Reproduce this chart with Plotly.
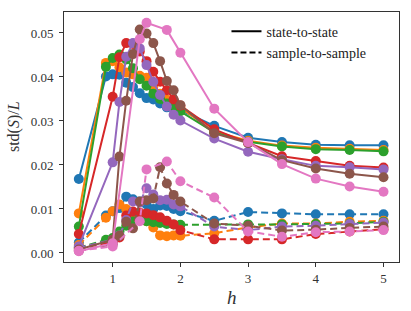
import plotly.graph_objects as go

h_std = [0.5, 0.9, 1.0, 1.1, 1.2, 1.3, 1.4, 1.5, 1.6, 1.7, 1.8, 1.9, 2.0, 2.5, 3.0, 3.5, 4.0, 4.5, 5.0]
h_late = [0.5, 1.0, 1.1, 1.2, 1.3, 1.4, 1.5, 1.6, 1.7, 1.8, 1.9, 2.0, 2.5, 3.0, 3.5, 4.0, 4.5, 5.0]
h_pink = [0.5, 1.0, 1.4, 1.5, 1.8, 2.0, 2.5, 3.0, 3.5, 4.0, 4.5, 5.0]

colors = ["#1f77b4", "#ff7f0e", "#2ca02c", "#d62728", "#9467bd", "#8c564b", "#e377c2"]

h_values = [h_std, h_std, h_std, h_late, h_late, h_late, h_pink]

state_to_state = [
    [0.0168, 0.0401, 0.0406, 0.0405, 0.0387, 0.0377, 0.0363, 0.0352, 0.0349, 0.0340, 0.0331, 0.0328, 0.0325, 0.0289, 0.0262, 0.0252, 0.0246, 0.0245, 0.0245],
    [0.0090, 0.0432, 0.0436, 0.0422, 0.0410, 0.0406, 0.0403, 0.0398, 0.0378, 0.0362, 0.0348, 0.0336, 0.0330, 0.0276, 0.0255, 0.0244, 0.0239, 0.0237, 0.0234],
    [0.0060, 0.0423, 0.0443, 0.0451, 0.0440, 0.0420, 0.0395, 0.0380, 0.0362, 0.0350, 0.0340, 0.0330, 0.0322, 0.0274, 0.0253, 0.0242, 0.0236, 0.0234, 0.0231],
    [0.0043, 0.0355, 0.0445, 0.0477, 0.0475, 0.0458, 0.0436, 0.0412, 0.0389, 0.0370, 0.0349, 0.0335, 0.0281, 0.0250, 0.0220, 0.0209, 0.0198, 0.0194],
    [0.0015, 0.0206, 0.0343, 0.0446, 0.0477, 0.0465, 0.0427, 0.0389, 0.0359, 0.0333, 0.0314, 0.0301, 0.0260, 0.0230, 0.0213, 0.0198, 0.0195, 0.0190],
    [0.0008, 0.0030, 0.0219, 0.0346, 0.0452, 0.0508, 0.0499, 0.0477, 0.0436, 0.0391, 0.0370, 0.0336, 0.0272, 0.0250, 0.0211, 0.0192, 0.0180, 0.0172],
    [0.0004, 0.0022, 0.0486, 0.0523, 0.0507, 0.0455, 0.0328, 0.0252, 0.0202, 0.0169, 0.0151, 0.0139],
]

sample_to_sample = [
    [0.0024, 0.0085, 0.0095, 0.0102, 0.0128, 0.0122, 0.0117, 0.0110, 0.0100, 0.0108, 0.0107, 0.0100, 0.0095, 0.0073, 0.0093, 0.0090, 0.0088, 0.0088, 0.0088],
    [0.0018, 0.0080, 0.0095, 0.0110, 0.0100, 0.0085, 0.0079, 0.0072, 0.0058, 0.0040, 0.0038, 0.0040, 0.0039, 0.0045, 0.0058, 0.0067, 0.0067, 0.0071, 0.0073],
    [0.0012, 0.0030, 0.0034, 0.0049, 0.0062, 0.0072, 0.0075, 0.0072, 0.0070, 0.0068, 0.0066, 0.0065, 0.0064, 0.0065, 0.0065, 0.0065, 0.0066, 0.0067, 0.0071],
    [0.0010, 0.0025, 0.0035, 0.0085, 0.0094, 0.0092, 0.0090, 0.0086, 0.0081, 0.0073, 0.0065, 0.0052, 0.0031, 0.0031, 0.0031, 0.0043, 0.0049, 0.0054],
    [0.0012, 0.0030, 0.0040, 0.0075, 0.0117, 0.0115, 0.0147, 0.0133, 0.0120, 0.0121, 0.0110, 0.0106, 0.0060, 0.0052, 0.0060, 0.0062, 0.0066, 0.0069],
    [0.0005, 0.0020, 0.0039, 0.0071, 0.0056, 0.0117, 0.0120, 0.0124, 0.0195, 0.0158, 0.0132, 0.0117, 0.0067, 0.0062, 0.0051, 0.0053, 0.0057, 0.0060],
    [0.0005, 0.0015, 0.0072, 0.0190, 0.0208, 0.0163, 0.0126, 0.0049, 0.0037, 0.0047, 0.0049, 0.0052],
]

legend_labels = ["state-to-state", "sample-to-sample"]
x_ticks = [1, 2, 3, 4, 5]
y_ticks = [0.00, 0.01, 0.02, 0.03, 0.04, 0.05]
x_title = "<i>h</i>"
y_title = "std(<i>S</i>)/<i>L</i>"

FONT = "'Liberation Serif', 'Times New Roman', serif"
DASH = "7px,4px"

fig = go.Figure()
for c, hx, ys, yd in zip(colors, h_values, state_to_state, sample_to_sample):
    fig.add_trace(go.Scatter(x=hx, y=ys, mode="lines+markers", showlegend=False,
                             line=dict(color=c, width=2),
                             marker=dict(color=c, size=10)))
    fig.add_trace(go.Scatter(x=hx, y=yd, mode="lines+markers", showlegend=False,
                             line=dict(color=c, width=2, dash=DASH),
                             marker=dict(color=c, size=10)))

fig.add_trace(go.Scatter(x=[None], y=[None], mode="lines", name=legend_labels[0],
                         line=dict(color="black", width=2)))
fig.add_trace(go.Scatter(x=[None], y=[None], mode="lines", name=legend_labels[1],
                         line=dict(color="black", width=2, dash="6px,3px")))

axis_common = dict(showline=True, linecolor="#333333", linewidth=1, mirror=True,
                   ticks="outside", ticklen=4, tickcolor="#333333", tickwidth=1,
                   showgrid=False, zeroline=False, automargin=False,
                   tickfont=dict(family=FONT, size=13, color="#333333"))

fig.update_layout(
    width=411, height=311,
    margin=dict(l=64, r=12, t=12, b=49),
    paper_bgcolor="white", plot_bgcolor="white",
    font=dict(family=FONT, color="#333333"),
    legend=dict(x=0.485, y=0.985, xanchor="left", yanchor="top",
                bgcolor="rgba(255,255,255,0)", borderwidth=0,
                font=dict(family=FONT, size=14, color="#222222"),
                tracegroupgap=0),
    xaxis=dict(range=[0.281, 5.229], tickvals=x_ticks, **axis_common),
    yaxis=dict(range=[-0.00205, 0.05477], tickvals=y_ticks, tickformat=".2f",
               ticklabelstandoff=3, **axis_common),
    annotations=[
        dict(text=x_title, xref="paper", yref="paper", x=0.5, y=-0.14,
             xanchor="center", yanchor="middle", showarrow=False,
             font=dict(family=FONT, size=19, color="#333333")),
        dict(text=y_title, xref="paper", yref="paper", x=-0.149, y=0.54,
             xanchor="center", yanchor="middle", showarrow=False, textangle=-90,
             font=dict(family=FONT, size=16, color="#333333")),
    ],
)

fig.write_html("out.html", config={"displayModeBar": False},
               post_script="document.body.style.margin='0';")
